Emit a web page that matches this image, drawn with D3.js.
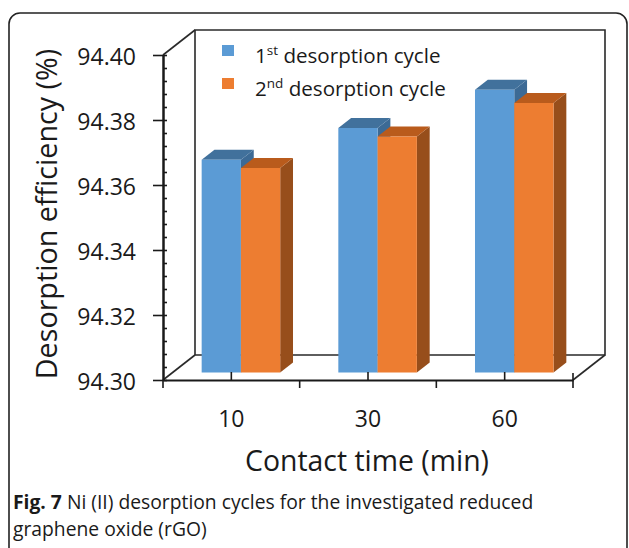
<!DOCTYPE html>
<html>
<head>
<meta charset="utf-8">
<script src="https://cdn.jsdelivr.net/npm/d3@7"></script>
<style>
  html, body { margin: 0; padding: 0; background: #fff; }
  svg { display: block; }
  text { font-family: "Open Sans", sans-serif; fill: #1a1a1a; }
</style>
</head>
<body>
<svg id="chart" width="629" height="548"></svg>
<script>
// Contact times (min) on the category axis
const contactTimes = ["10", "30", "60"];
// Series names
const seriesNames = ["1st desorption cycle", "2nd desorption cycle"];
// Desorption efficiency (%) per contact time
const cycle1 = [94.3655, 94.3752, 94.3870];
const cycle2 = [94.3629, 94.3726, 94.3829];
// Value axis ticks
const yMajorTicks = [94.30, 94.32, 94.34, 94.36, 94.38, 94.40];
const yDomain = [94.30, 94.40];

const svg = d3.select("#chart");

// Outer figure frame
svg.append("rect")
  .attr("x", 9).attr("y", 13)
  .attr("width", 618).attr("height", 570)
  .attr("rx", 11).attr("ry", 11)
  .attr("fill", "none").attr("stroke", "#222").attr("stroke-width", 1.6);

// Front plane of the 3-D box
const left = 163, right = 573, floorY = 380, topY = 55;
// Depth vector from front to back of the box
const DX = 32, DY = -25;
const proj = (x, y, f) => [x + f * DX, y + f * DY];

const y = d3.scaleLinear().domain(yDomain).range([floorY, topY]);
const x0 = d3.scaleBand().domain(contactTimes).range([left, right]).padding(0);
const x1 = d3.scaleBand().domain([0, 1]).range([0, x0.bandwidth()])
  .paddingInner(0).paddingOuter(0.74);

const wallColor = "#2a2a2a";
const g = svg.append("g");

// Back wall and floor outlines
const backTL = proj(left, topY, 1), backBL = proj(left, floorY, 1);
const backTR = proj(right, topY, 1), backBR = proj(right, floorY, 1);
const line = d3.line();
g.append("path")
  .attr("d", line([backBL, backTL, backTR, backBR, backBL]))
  .attr("fill", "none").attr("stroke", wallColor).attr("stroke-width", 1.6);
g.append("path")
  .attr("d", line([[left, topY], backTL]))
  .attr("fill", "none").attr("stroke", wallColor).attr("stroke-width", 1.6);
g.append("path")
  .attr("d", line([[left, floorY], backBL]))
  .attr("fill", "none").attr("stroke", wallColor).attr("stroke-width", 1.6);
g.append("path")
  .attr("d", line([[right, floorY], backBR]))
  .attr("fill", "none").attr("stroke", wallColor).attr("stroke-width", 1.6);

// 3-D columns
const fFront = 0.3, fBack = 0.7;
const palette = [
  { front: "#5B9BD5", top: "#41719C", side: "#3C6A95" },
  { front: "#ED7D31", top: "#B95B1C", side: "#974E1B" }
];
const series = [cycle1, cycle2];
const bars = g.append("g");
contactTimes.forEach((c, i) => {
  series.forEach((vals, s) => {
    const col = palette[s];
    const xa = x0(c) + x1(s), xb = xa + x1.bandwidth();
    const yt = y(vals[i]), yb = y(yDomain[0]);
    const fl = proj(xa, yt, fFront), fr = proj(xb, yt, fFront);
    const bl = proj(xa, yt, fBack), br = proj(xb, yt, fBack);
    const frB = proj(xb, yb, fFront), brB = proj(xb, yb, fBack);
    const flB = proj(xa, yb, fFront);
    // side face
    bars.append("path").attr("d", line([fr, br, brB, frB]) + "Z")
      .attr("fill", col.side);
    // top face
    bars.append("path").attr("d", line([fl, bl, br, fr]) + "Z")
      .attr("fill", col.top);
    // front face
    bars.append("path").attr("d", line([fl, fr, frB, flB]) + "Z")
      .attr("fill", col.front);
  });
});

// Value axis: major ticks with labels, minor ticks on the inner side
const axisColor = "#1a1a1a";
const yMajor = g.append("g").attr("transform", `translate(${left},0)`)
  .call(d3.axisLeft(y).tickValues(yMajorTicks).tickFormat(d3.format(".2f"))
    .tickSizeInner(10).tickSizeOuter(0).tickPadding(17));
const yMinor = g.append("g").attr("transform", `translate(${left},0)`)
  .call(d3.axisRight(y).tickValues(d3.range(0, 26).map(k => 94.30 + k * 0.004))
    .tickFormat("").tickSizeInner(4).tickSizeOuter(0));
[yMajor, yMinor].forEach(ax => {
  ax.selectAll("path.domain").attr("stroke", axisColor).attr("stroke-width", 2);
  ax.selectAll(".tick line").attr("stroke", axisColor).attr("stroke-width", 1.6);
});
yMajor.selectAll(".tick text")
  .attr("font-family", "Open Sans").attr("font-size", 23).attr("fill", "#1a1a1a")
  .attr("dy", "0.42em");

// Category axis: front floor edge
const xAxis = g.append("g").attr("transform", `translate(0,${floorY})`)
  .call(d3.axisBottom(x0).tickSizeInner(-8).tickSizeOuter(0).tickPadding(31));
xAxis.select("path.domain").attr("stroke", axisColor).attr("stroke-width", 2);
xAxis.selectAll(".tick line").attr("stroke", axisColor).attr("stroke-width", 1.6);
xAxis.selectAll(".tick text")
  .attr("font-family", "Open Sans").attr("font-size", 23).attr("fill", "#1a1a1a");

// Category boundary ticks
const bounds = contactTimes.map(c => x0(c)).concat([right]);
g.selectAll("line.bound").data(bounds).join("line")
  .attr("class", "bound")
  .attr("x1", d => d).attr("x2", d => d)
  .attr("y1", d => d === right ? floorY - 7 : floorY)
  .attr("y2", floorY + 8)
  .attr("stroke", axisColor).attr("stroke-width", 1.6);

// Axis titles
svg.append("text")
  .attr("transform", `translate(57,214) rotate(-90)`)
  .attr("text-anchor", "middle")
  .attr("font-size", 28.7)
  .text("Desorption efficiency (%)");
svg.append("text")
  .attr("x", 367).attr("y", 471)
  .attr("text-anchor", "middle")
  .attr("font-size", 28.4)
  .text("Contact time (min)");

// Legend
const legend = svg.append("g");
const supText = [["1", "st"], ["2", "nd"]];
seriesNames.forEach((name, s) => {
  const ly = 45 + s * 33;
  legend.append("rect").attr("x", 222).attr("y", ly)
    .attr("width", 12).attr("height", 11).attr("fill", palette[s].front);
  const t = legend.append("text").attr("x", 255).attr("y", ly + 18)
    .attr("font-size", 20.6);
  t.append("tspan").text(supText[s][0]);
  t.append("tspan").attr("font-size", 13.5).attr("dy", -8).text(supText[s][1]);
  t.append("tspan").attr("dy", 8).text(" " + name.replace(/^\d\S+\s/, ""));
});

// Caption
const cap = svg.append("g");
const c1 = cap.append("text").attr("x", 13).attr("y", 509).attr("font-size", 19.3);
c1.append("tspan").attr("font-weight", "bold").text("Fig. 7");
c1.append("tspan").text(" Ni (II) desorption cycles for the investigated reduced");
cap.append("text").attr("x", 13).attr("y", 536).attr("font-size", 19.3)
  .text("graphene oxide (rGO)");
</script>
</body>
</html>
